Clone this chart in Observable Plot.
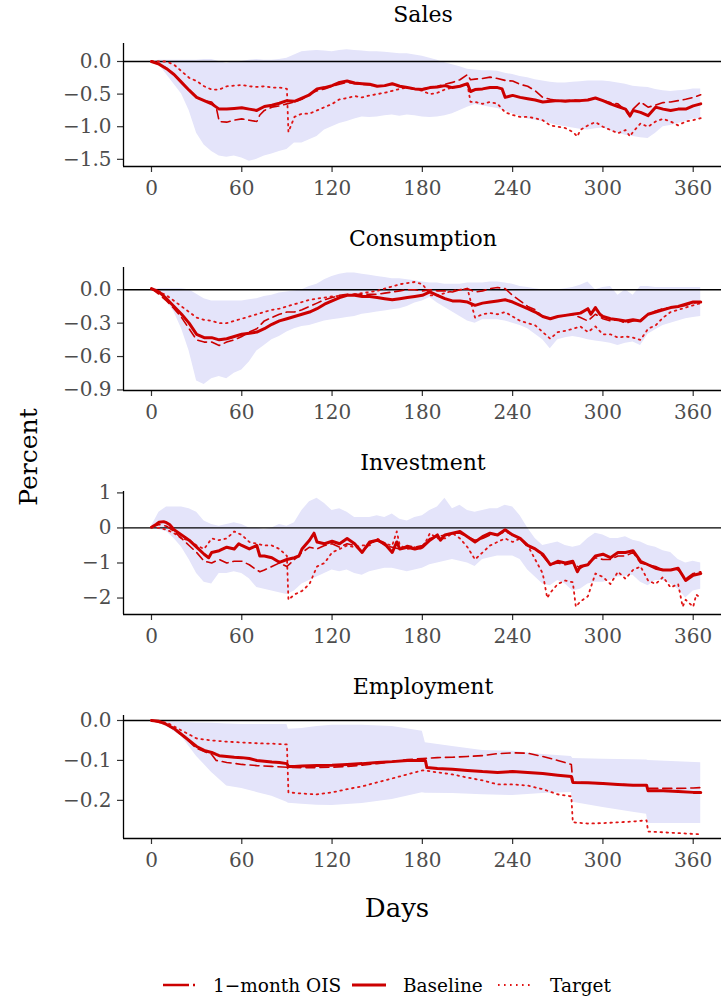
<!DOCTYPE html>
<html>
<head>
<meta charset="utf-8">
<script src="https://cdn.jsdelivr.net/npm/d3@7"></script>
<script src="https://cdn.jsdelivr.net/npm/@observablehq/plot@0.6"></script>
<style>
  body { margin: 0; background: #fff; }
  #fig { position: relative; width: 721px; height: 1000px; overflow: hidden; background: #fff; }
  #fig svg { position: absolute; left: 0; }
</style>
</head>
<body>
<div id="fig"></div>
<script>
// ---------------- tick labels / categories ----------------
const xTicks = [0, 60, 120, 180, 240, 300, 360];
const panelTitles = ["Sales", "Consumption", "Investment", "Employment"];
const seriesNames = ["1\u2212month OIS", "Baseline", "Target"];
const salesYTicks = [0, -0.5, -1.0, -1.5];
const consYTicks = [0, -0.3, -0.6, -0.9];
const invYTicks = [1, 0, -1, -2];
const empYTicks = [0, -0.1, -0.2];

// ---------------- Sales ----------------
const salesBaseline = [[0,0],[5,-0.04],[10,-0.11],[15,-0.2],[20,-0.32],[25,-0.44],[30,-0.55],[35,-0.6],[40,-0.65],[45,-0.73],[50,-0.73],[55,-0.72],[60,-0.71],[65,-0.73],[70,-0.75],[75,-0.69],[80,-0.67],[85,-0.64],[90,-0.6],[95,-0.61],[100,-0.56],[105,-0.51],[110,-0.42],[115,-0.4],[120,-0.37],[125,-0.32],[130,-0.3],[135,-0.33],[140,-0.34],[145,-0.35],[150,-0.38],[155,-0.37],[160,-0.34],[165,-0.38],[170,-0.4],[175,-0.42],[180,-0.43],[185,-0.4],[190,-0.39],[195,-0.37],[200,-0.4],[205,-0.38],[210,-0.34],[212,-0.46],[215,-0.43],[220,-0.42],[225,-0.4],[230,-0.4],[233,-0.42],[235,-0.55],[240,-0.52],[245,-0.55],[250,-0.57],[255,-0.59],[260,-0.62],[265,-0.61],[270,-0.6],[275,-0.61],[280,-0.6],[285,-0.6],[290,-0.59],[295,-0.56],[300,-0.6],[305,-0.65],[310,-0.69],[315,-0.73],[318,-0.83],[320,-0.75],[325,-0.78],[330,-0.83],[335,-0.7],[340,-0.73],[345,-0.75],[350,-0.73],[355,-0.73],[360,-0.68],[365,-0.65]];
const salesOIS = [[0,0],[5,-0.04],[10,-0.1],[15,-0.2],[20,-0.32],[25,-0.44],[30,-0.55],[35,-0.6],[40,-0.62],[43,-0.7],[45,-0.92],[50,-0.93],[55,-0.9],[60,-0.88],[65,-0.9],[70,-0.92],[72,-0.82],[75,-0.75],[80,-0.7],[85,-0.68],[90,-0.65],[95,-0.62],[100,-0.58],[105,-0.5],[110,-0.45],[115,-0.42],[120,-0.38],[125,-0.35],[130,-0.32],[135,-0.34],[140,-0.35],[145,-0.36],[150,-0.38],[155,-0.37],[160,-0.35],[165,-0.38],[170,-0.4],[175,-0.43],[180,-0.42],[185,-0.4],[190,-0.38],[195,-0.35],[200,-0.32],[205,-0.28],[210,-0.2],[212,-0.28],[215,-0.27],[220,-0.26],[225,-0.24],[230,-0.26],[235,-0.29],[240,-0.3],[245,-0.35],[250,-0.38],[255,-0.45],[260,-0.55],[265,-0.58],[270,-0.6],[275,-0.6],[280,-0.59],[285,-0.6],[290,-0.58],[295,-0.56],[300,-0.6],[305,-0.63],[310,-0.65],[315,-0.75],[318,-0.85],[320,-0.73],[325,-0.62],[330,-0.7],[335,-0.67],[340,-0.63],[345,-0.62],[350,-0.6],[355,-0.58],[360,-0.55],[365,-0.51]];
const salesTarget = [[0,0],[5,0],[10,0],[15,-0.05],[20,-0.15],[25,-0.25],[30,-0.3],[35,-0.38],[40,-0.43],[45,-0.43],[50,-0.38],[55,-0.37],[60,-0.36],[65,-0.38],[70,-0.39],[75,-0.38],[80,-0.4],[85,-0.4],[90,-0.42],[91,-1.08],[95,-0.85],[100,-0.8],[105,-0.8],[110,-0.75],[115,-0.7],[120,-0.65],[125,-0.58],[130,-0.56],[135,-0.53],[140,-0.55],[145,-0.52],[150,-0.5],[155,-0.48],[160,-0.45],[165,-0.42],[170,-0.4],[175,-0.42],[180,-0.45],[185,-0.5],[190,-0.48],[195,-0.43],[200,-0.4],[205,-0.38],[210,-0.36],[212,-0.62],[215,-0.62],[220,-0.65],[225,-0.62],[230,-0.65],[235,-0.78],[240,-0.82],[245,-0.85],[250,-0.85],[255,-0.87],[260,-0.9],[265,-0.98],[270,-1.0],[275,-1.02],[280,-1.08],[283,-1.15],[285,-1.05],[290,-0.98],[295,-0.93],[300,-1.0],[305,-1.05],[310,-1.1],[315,-1.05],[318,-1.15],[320,-1.08],[325,-0.95],[330,-1.0],[335,-0.92],[340,-0.88],[345,-0.92],[350,-0.98],[355,-0.92],[360,-0.9],[365,-0.87]];
const salesBand = [[0,0,0],[5,-0.05,0.02],[10,-0.2,0.02],[15,-0.35,0.02],[20,-0.5,0.02],[25,-0.75,0.02],[30,-1.1,0.02],[35,-1.28,0.03],[40,-1.38,0.03],[45,-1.45,0.0],[50,-1.47,-0.03],[55,-1.45,0.0],[60,-1.48,0.0],[65,-1.53,0.02],[70,-1.5,0.03],[75,-1.45,0.02],[80,-1.42,0.02],[85,-1.38,0.03],[90,-1.35,0.05],[95,-1.25,0.1],[100,-1.25,0.15],[105,-1.2,0.16],[110,-1.15,0.17],[115,-1.05,0.16],[120,-1.0,0.15],[125,-0.95,0.17],[130,-0.92,0.18],[135,-0.88,0.17],[140,-0.85,0.16],[145,-0.86,0.15],[150,-0.85,0.15],[155,-0.83,0.14],[160,-0.82,0.13],[165,-0.84,0.12],[170,-0.82,0.12],[175,-0.83,0.1],[180,-0.85,0.08],[185,-0.86,0.05],[190,-0.85,0.02],[195,-0.83,-0.02],[200,-0.8,-0.05],[205,-0.75,-0.08],[210,-0.7,-0.12],[215,-0.66,-0.13],[220,-0.68,-0.14],[225,-0.7,-0.14],[230,-0.72,-0.15],[235,-0.76,-0.18],[240,-0.8,-0.2],[245,-0.84,-0.23],[250,-0.88,-0.25],[255,-0.9,-0.28],[260,-0.92,-0.3],[265,-0.95,-0.32],[270,-0.98,-0.33],[275,-1.0,-0.33],[280,-1.02,-0.32],[285,-1.04,-0.31],[290,-1.05,-0.3],[295,-1.03,-0.3],[300,-1.02,-0.3],[305,-1.06,-0.31],[310,-1.1,-0.33],[315,-1.13,-0.35],[320,-1.15,-0.38],[325,-1.17,-0.39],[330,-1.18,-0.4],[335,-1.1,-0.43],[340,-1.0,-0.45],[345,-0.98,-0.46],[350,-0.95,-0.45],[355,-0.92,-0.44],[360,-0.88,-0.42],[365,-0.88,-0.42]];

// ---------------- Consumption ----------------
const consBaseline = [[0,0.01],[5,-0.02],[10,-0.08],[15,-0.15],[20,-0.22],[25,-0.3],[30,-0.4],[35,-0.43],[40,-0.43],[45,-0.45],[50,-0.44],[55,-0.42],[60,-0.4],[65,-0.39],[70,-0.38],[75,-0.35],[80,-0.31],[85,-0.28],[90,-0.26],[95,-0.24],[100,-0.22],[105,-0.2],[110,-0.17],[115,-0.13],[120,-0.1],[125,-0.07],[130,-0.05],[135,-0.05],[140,-0.06],[145,-0.06],[150,-0.07],[155,-0.08],[160,-0.09],[165,-0.08],[170,-0.07],[175,-0.06],[180,-0.05],[185,-0.02],[190,-0.05],[195,-0.08],[200,-0.1],[205,-0.1],[210,-0.11],[215,-0.14],[220,-0.12],[225,-0.11],[230,-0.1],[235,-0.09],[240,-0.11],[245,-0.14],[250,-0.17],[255,-0.2],[260,-0.24],[265,-0.26],[270,-0.24],[275,-0.23],[280,-0.22],[285,-0.21],[290,-0.17],[292,-0.22],[295,-0.16],[298,-0.22],[300,-0.24],[305,-0.26],[310,-0.27],[315,-0.28],[320,-0.27],[325,-0.28],[330,-0.22],[335,-0.2],[340,-0.18],[345,-0.16],[350,-0.15],[355,-0.13],[360,-0.11],[365,-0.11]];
const consOIS = [[0,0.01],[5,-0.04],[10,-0.1],[15,-0.17],[20,-0.25],[25,-0.35],[30,-0.45],[35,-0.47],[40,-0.47],[45,-0.5],[50,-0.47],[55,-0.45],[60,-0.42],[65,-0.38],[70,-0.35],[75,-0.28],[80,-0.25],[85,-0.22],[90,-0.2],[95,-0.2],[100,-0.18],[105,-0.15],[110,-0.12],[115,-0.09],[120,-0.07],[125,-0.05],[130,-0.04],[135,-0.04],[140,-0.04],[145,-0.04],[150,-0.04],[155,-0.03],[160,-0.02],[165,-0.01],[170,0.0],[175,0.0],[180,-0.01],[185,0.0],[190,-0.01],[195,-0.01],[200,-0.02],[205,0.0],[210,0.01],[215,-0.02],[220,-0.01],[225,0.01],[230,0.02],[235,0.01],[240,-0.05],[245,-0.1],[250,-0.15],[255,-0.18],[260,-0.24],[265,-0.26],[270,-0.24],[275,-0.23],[280,-0.22],[285,-0.25],[290,-0.28],[295,-0.22],[300,-0.26],[305,-0.28],[310,-0.27],[315,-0.3],[320,-0.28],[325,-0.27],[330,-0.22],[335,-0.19],[340,-0.17],[345,-0.16],[350,-0.15],[355,-0.14],[360,-0.12],[365,-0.11]];
const consTarget = [[0,0.01],[5,-0.02],[10,-0.05],[15,-0.1],[20,-0.15],[25,-0.2],[30,-0.25],[35,-0.27],[40,-0.28],[45,-0.3],[50,-0.3],[55,-0.28],[60,-0.26],[65,-0.24],[70,-0.22],[75,-0.2],[80,-0.18],[85,-0.17],[90,-0.15],[95,-0.13],[100,-0.11],[105,-0.09],[110,-0.08],[120,-0.06],[130,-0.05],[140,-0.03],[150,-0.01],[160,0.03],[165,0.05],[170,0.06],[175,0.07],[180,0.05],[183,0.0],[185,-0.05],[190,-0.05],[195,-0.03],[200,-0.01],[205,0.0],[210,0.01],[213,-0.15],[215,-0.25],[220,-0.22],[225,-0.21],[230,-0.22],[235,-0.2],[240,-0.24],[245,-0.28],[250,-0.3],[255,-0.32],[260,-0.38],[265,-0.44],[270,-0.38],[275,-0.37],[280,-0.35],[285,-0.33],[290,-0.38],[295,-0.33],[300,-0.4],[305,-0.4],[310,-0.43],[315,-0.42],[320,-0.43],[325,-0.45],[330,-0.35],[335,-0.32],[340,-0.25],[345,-0.2],[350,-0.18],[355,-0.16],[360,-0.14],[365,-0.12]];
const consBand = [[0,0.01,0.01],[5,-0.02,0.01],[10,-0.1,0.01],[15,-0.2,0.01],[20,-0.35,0.01],[25,-0.55,0.0],[30,-0.82,-0.04],[35,-0.85,-0.08],[40,-0.8,-0.1],[45,-0.78,-0.1],[50,-0.8,-0.1],[55,-0.75,-0.1],[60,-0.72,-0.1],[65,-0.65,-0.09],[70,-0.55,-0.08],[75,-0.5,-0.06],[80,-0.45,-0.05],[85,-0.42,-0.03],[90,-0.38,-0.02],[95,-0.35,-0.01],[100,-0.33,0.0],[105,-0.32,0.03],[110,-0.3,0.05],[115,-0.28,0.09],[120,-0.27,0.12],[125,-0.26,0.14],[130,-0.25,0.15],[135,-0.24,0.15],[140,-0.22,0.14],[145,-0.21,0.13],[150,-0.2,0.12],[155,-0.19,0.11],[160,-0.18,0.1],[165,-0.17,0.1],[170,-0.15,0.09],[175,-0.12,0.08],[180,-0.1,0.07],[185,-0.07,0.06],[190,-0.12,0.06],[195,-0.16,0.05],[200,-0.2,0.05],[205,-0.24,0.05],[210,-0.28,0.06],[215,-0.3,0.06],[220,-0.27,0.06],[225,-0.27,0.07],[230,-0.27,0.07],[235,-0.28,0.06],[240,-0.3,0.05],[245,-0.32,0.03],[250,-0.35,0.02],[255,-0.4,0.01],[260,-0.45,0.0],[265,-0.53,0.0],[270,-0.45,0.0],[275,-0.43,0.01],[280,-0.42,0.02],[285,-0.43,0.04],[290,-0.45,0.07],[295,-0.46,0.0],[300,-0.47,0.02],[305,-0.48,0.03],[310,-0.5,-0.05],[315,-0.48,0.0],[320,-0.47,-0.05],[325,-0.5,0.03],[330,-0.4,0.03],[335,-0.36,0.02],[340,-0.32,0.02],[345,-0.3,0.02],[350,-0.28,0.02],[355,-0.26,0.02],[360,-0.25,0.02],[365,-0.24,0.02]];

// ---------------- Investment ----------------
const invBaseline = [[0,0.02],[3,0.1],[5,0.16],[8,0.18],[10,0.15],[12,0.1],[15,-0.05],[20,-0.2],[25,-0.35],[30,-0.55],[35,-0.75],[38,-0.85],[40,-0.7],[45,-0.65],[50,-0.55],[55,-0.6],[58,-0.45],[60,-0.5],[65,-0.6],[70,-0.5],[72,-0.8],[75,-0.8],[80,-0.85],[85,-0.98],[90,-0.9],[95,-0.85],[98,-0.8],[100,-0.6],[105,-0.35],[108,-0.15],[110,-0.4],[115,-0.45],[120,-0.38],[125,-0.45],[130,-0.3],[135,-0.45],[140,-0.7],[145,-0.4],[150,-0.35],[155,-0.45],[160,-0.7],[163,-0.4],[165,-0.6],[170,-0.55],[175,-0.6],[180,-0.55],[185,-0.35],[190,-0.2],[192,-0.35],[195,-0.2],[200,-0.15],[205,-0.1],[210,-0.25],[215,-0.4],[220,-0.25],[225,-0.15],[230,-0.2],[235,-0.05],[240,-0.2],[245,-0.3],[250,-0.5],[255,-0.6],[260,-0.75],[265,-1.05],[270,-0.95],[275,-1.0],[280,-0.95],[283,-1.25],[285,-1.1],[290,-1.05],[295,-0.8],[300,-0.75],[305,-0.85],[310,-0.7],[315,-0.7],[320,-0.65],[325,-0.95],[330,-1.05],[335,-1.15],[340,-1.2],[345,-1.2],[350,-1.15],[355,-1.5],[360,-1.35],[365,-1.3]];
const invOIS = [[0,0.02],[5,0.1],[10,0.05],[15,-0.1],[20,-0.3],[25,-0.5],[30,-0.7],[35,-0.95],[40,-1.0],[45,-0.9],[50,-1.0],[55,-0.95],[60,-0.95],[65,-1.05],[70,-1.2],[72,-1.25],[75,-1.2],[80,-1.1],[85,-1.0],[90,-1.1],[95,-0.9],[100,-0.7],[105,-0.55],[110,-0.6],[115,-0.5],[120,-0.45],[125,-0.55],[130,-0.45],[135,-0.5],[140,-0.7],[145,-0.45],[150,-0.35],[155,-0.5],[160,-0.55],[165,-0.6],[170,-0.5],[175,-0.55],[180,-0.5],[185,-0.3],[190,-0.25],[195,-0.2],[200,-0.15],[205,-0.15],[210,-0.25],[215,-0.35],[220,-0.3],[225,-0.2],[230,-0.2],[235,-0.1],[240,-0.2],[245,-0.3],[250,-0.55],[255,-0.6],[260,-0.8],[265,-1.05],[270,-1.0],[275,-1.05],[280,-1.0],[285,-1.15],[290,-1.0],[295,-0.85],[300,-0.9],[305,-0.9],[310,-0.8],[315,-0.8],[320,-0.7],[325,-1.0],[330,-1.05],[335,-1.1],[340,-1.2],[345,-1.2],[350,-1.2],[355,-1.45],[360,-1.3],[365,-1.25]];
const invTarget = [[0,0.02],[5,0.0],[10,-0.05],[15,-0.15],[20,-0.3],[25,-0.35],[30,-0.5],[35,-0.6],[40,-0.3],[45,-0.35],[50,-0.3],[55,-0.1],[60,-0.2],[65,-0.4],[70,-0.45],[75,-0.5],[80,-0.5],[85,-0.6],[90,-0.8],[91,-2.05],[95,-1.9],[100,-1.8],[105,-1.6],[110,-1.1],[115,-1.0],[120,-0.7],[125,-0.6],[130,-0.5],[135,-0.55],[140,-0.5],[145,-0.5],[150,-0.3],[155,-0.45],[160,-0.5],[163,-0.1],[165,-0.5],[170,-0.6],[175,-0.55],[180,-0.6],[185,-0.15],[190,-0.3],[195,-0.3],[200,-0.15],[205,-0.3],[210,-0.55],[215,-0.9],[220,-0.7],[225,-0.5],[230,-0.4],[235,-0.3],[240,-0.4],[245,-0.3],[250,-0.5],[255,-0.9],[260,-1.3],[263,-2.0],[265,-1.85],[270,-1.6],[275,-1.5],[280,-1.55],[282,-2.25],[285,-2.1],[290,-1.95],[295,-1.3],[300,-1.4],[305,-1.6],[310,-1.25],[315,-1.45],[320,-1.2],[325,-1.1],[330,-1.5],[335,-1.6],[340,-1.4],[345,-1.7],[350,-1.6],[353,-2.25],[355,-2.05],[360,-2.25],[362,-1.9],[365,-2.0]];
const invBand = [[0,0.0,0.05],[5,-0.05,0.45],[10,-0.1,0.6],[15,-0.3,0.6],[20,-0.55,0.6],[25,-0.9,0.55],[30,-1.3,0.45],[35,-1.55,0.2],[40,-1.6,0.1],[45,-1.3,0.05],[50,-1.3,0.1],[55,-1.25,0.15],[60,-1.3,0.1],[65,-1.45,0.0],[70,-1.7,0.0],[75,-1.75,-0.05],[80,-1.8,0.0],[85,-1.85,0.1],[90,-1.9,0.05],[95,-1.8,0.15],[100,-1.6,0.5],[105,-1.5,0.75],[110,-1.4,0.85],[115,-1.3,0.7],[120,-1.2,0.5],[125,-1.25,0.55],[130,-1.2,0.45],[135,-1.3,0.3],[140,-1.35,0.3],[145,-1.25,0.3],[150,-1.2,0.35],[155,-1.15,0.3],[160,-1.15,0.4],[165,-1.2,0.25],[170,-1.25,0.2],[175,-1.2,0.3],[180,-1.15,0.35],[185,-1.05,0.5],[190,-1.0,0.6],[195,-0.95,0.85],[200,-0.9,0.55],[205,-0.95,0.65],[210,-1.0,0.5],[215,-1.1,0.45],[220,-0.9,0.5],[225,-0.85,0.55],[230,-0.8,0.55],[235,-0.8,0.65],[240,-0.8,0.6],[245,-0.9,0.35],[250,-1.2,0.0],[255,-1.4,-0.3],[260,-1.6,-0.5],[265,-1.65,-0.45],[270,-1.5,-0.4],[275,-1.6,-0.5],[280,-1.8,-0.55],[285,-1.75,-0.5],[290,-1.6,-0.3],[295,-1.55,-0.15],[300,-1.55,-0.2],[305,-1.5,-0.3],[310,-1.4,-0.3],[315,-1.38,-0.25],[320,-1.35,-0.35],[325,-1.55,-0.4],[330,-1.65,-0.5],[335,-1.5,-0.55],[340,-1.5,-0.65],[345,-1.6,-0.7],[350,-1.75,-0.9],[355,-2.0,-1.0],[360,-1.8,-0.95],[365,-1.75,-1.0]];

// ---------------- Employment ----------------
const empBaseline = [[0,0],[5,-0.002],[10,-0.01],[15,-0.02],[20,-0.035],[25,-0.05],[30,-0.065],[35,-0.075],[40,-0.08],[43,-0.085],[45,-0.088],[50,-0.09],[55,-0.092],[60,-0.093],[65,-0.095],[70,-0.1],[75,-0.102],[80,-0.104],[85,-0.105],[90,-0.108],[91,-0.115],[95,-0.115],[100,-0.114],[110,-0.113],[120,-0.112],[130,-0.11],[140,-0.108],[150,-0.105],[160,-0.103],[170,-0.1],[182,-0.1],[183,-0.118],[190,-0.12],[200,-0.122],[210,-0.125],[220,-0.128],[230,-0.13],[240,-0.128],[250,-0.13],[260,-0.133],[270,-0.137],[279,-0.14],[280,-0.155],[290,-0.156],[300,-0.158],[310,-0.16],[320,-0.162],[329,-0.162],[330,-0.176],[340,-0.176],[350,-0.178],[360,-0.18],[365,-0.18]];
const empOIS = [[0,0],[10,-0.01],[20,-0.035],[30,-0.07],[40,-0.085],[43,-0.1],[50,-0.105],[60,-0.11],[70,-0.113],[80,-0.115],[90,-0.117],[100,-0.118],[110,-0.118],[120,-0.117],[130,-0.115],[140,-0.112],[150,-0.108],[160,-0.103],[170,-0.098],[180,-0.095],[190,-0.093],[200,-0.092],[210,-0.09],[220,-0.088],[230,-0.083],[240,-0.081],[250,-0.082],[260,-0.09],[270,-0.1],[279,-0.11],[280,-0.155],[290,-0.156],[300,-0.158],[310,-0.16],[320,-0.162],[329,-0.161],[330,-0.17],[340,-0.17],[350,-0.17],[360,-0.169],[365,-0.168]];
const empTarget = [[0,0],[10,-0.005],[20,-0.025],[30,-0.045],[40,-0.05],[50,-0.053],[60,-0.055],[70,-0.057],[80,-0.058],[90,-0.06],[91,-0.18],[100,-0.183],[110,-0.185],[120,-0.18],[130,-0.172],[140,-0.165],[150,-0.155],[160,-0.145],[170,-0.135],[180,-0.125],[182,-0.125],[190,-0.13],[200,-0.135],[210,-0.143],[220,-0.15],[230,-0.16],[240,-0.16],[250,-0.163],[260,-0.172],[270,-0.185],[279,-0.19],[280,-0.255],[290,-0.258],[300,-0.257],[310,-0.255],[320,-0.253],[329,-0.25],[330,-0.278],[340,-0.28],[350,-0.282],[360,-0.284],[365,-0.285]];
const empBand = [[0,0,0],[5,-0.005,-0.002],[10,-0.015,-0.004],[20,-0.04,-0.005],[30,-0.09,-0.006],[40,-0.13,-0.007],[50,-0.164,-0.009],[60,-0.17,-0.01],[70,-0.18,-0.01],[80,-0.19,-0.01],[90,-0.205,-0.01],[91,-0.207,-0.022],[100,-0.21,-0.02],[110,-0.212,-0.015],[120,-0.213,-0.012],[140,-0.208,-0.012],[160,-0.198,-0.015],[180,-0.181,-0.027],[182,-0.182,-0.056],[200,-0.183,-0.065],[220,-0.186,-0.075],[240,-0.188,-0.077],[260,-0.183,-0.085],[279,-0.18,-0.09],[280,-0.205,-0.095],[300,-0.218,-0.097],[320,-0.23,-0.098],[329,-0.235,-0.099],[330,-0.258,-0.1],[365,-0.258,-0.106]];

// ---------------- layout ----------------
const W = 721;
const ML = 123, MT = 5, MB = 40, PH = 123;
const xDomain = [-18.6, 378.8];
const RED = "#cc0000", DOT = "#e01414", BAND = "#e4e4fa";
const FONT = '"DejaVu Serif", serif';
const DOTS = "1.6,4.4";

const panels = [
  {title: panelTitles[0], top: 43, yDomain: [-1.61, 0.276], yTicks: salesYTicks, fmt: d3.format(".1f"), band: salesBand, base: salesBaseline, ois: salesOIS, target: salesTarget},
  {title: panelTitles[1], top: 267, yDomain: [-0.905, 0.2], yTicks: consYTicks, fmt: d3.format(".1f"), band: consBand, base: consBaseline, ois: consOIS, target: consTarget},
  {title: panelTitles[2], top: 491, yDomain: [-2.47, 1.04], yTicks: invYTicks, fmt: d3.format("d"), band: invBand, base: invBaseline, ois: invOIS, target: invTarget},
  {title: panelTitles[3], top: 715, yDomain: [-0.2955, 0.0125], yTicks: empYTicks, fmt: d3.format(".1f"), band: empBand, base: empBaseline, ois: empOIS, target: empTarget}
];

const fig = document.getElementById("fig");
const X = d => d[0], Y = d => d[1];

for (const p of panels) {
  const svg = Plot.plot({
    width: W,
    height: MT + PH + MB,
    marginLeft: ML, marginRight: 0, marginTop: MT, marginBottom: MB,
    x: {domain: xDomain},
    y: {domain: p.yDomain},
    style: {fontFamily: FONT, fontSize: "20px", background: "transparent", overflow: "visible"},
    marks: [
      Plot.areaY(p.band, {x: X, y1: d => d[1], y2: d => d[2], fill: BAND}),
      Plot.ruleY([0], {stroke: "#000", strokeWidth: 1.3}),
      Plot.line(p.target, {x: X, y: Y, stroke: DOT, strokeWidth: 1.8, strokeDasharray: DOTS}),
      Plot.line(p.ois, {x: X, y: Y, stroke: RED, strokeWidth: 1.6, strokeDasharray: "9,5"}),
      Plot.line(p.base, {x: X, y: Y, stroke: RED, strokeWidth: 3}),
      Plot.axisY({ticks: p.yTicks, tickFormat: p.fmt, tickSize: 6, tickPadding: 6, stroke: "#333", strokeWidth: 1.2, fill: "#4d4d4d", fontSize: 20, label: null}),
      Plot.axisX({ticks: xTicks, tickFormat: d3.format("d"), tickSize: 6, tickPadding: 8, stroke: "#333", strokeWidth: 1.2, fill: "#4d4d4d", fontSize: 20, label: null}),
      Plot.ruleX([xDomain[0]], {stroke: "#000", strokeWidth: 1.3}),
      Plot.ruleY([p.yDomain[0]], {stroke: "#000", strokeWidth: 1.3})
    ]
  });
  svg.style.top = (p.top - MT) + "px";
  fig.appendChild(svg);
}

// ---------------- titles, axis labels, legend ----------------
const overlay = d3.select(fig).append("svg")
  .attr("width", W).attr("height", 1000)
  .style("top", "0px")
  .style("font-family", FONT);

overlay.selectAll("text.ptitle").data(panels).join("text")
  .attr("class", "ptitle")
  .attr("x", (ML + W) / 2 + 1)
  .attr("y", p => p.top - 21)
  .attr("text-anchor", "middle")
  .attr("font-size", 22)
  .attr("fill", "#000")
  .text(p => p.title);

overlay.append("text")
  .attr("transform", "translate(37,457) rotate(-90)")
  .attr("text-anchor", "middle")
  .attr("font-size", 25)
  .attr("fill", "#000")
  .text("Percent");

overlay.append("text")
  .attr("x", 397).attr("y", 917)
  .attr("text-anchor", "middle")
  .attr("font-size", 26)
  .attr("fill", "#000")
  .text("Days");

const legendItems = [
  {name: seriesNames[0], x1: 163, x2: 195, tx: 213, stroke: RED, width: 2.6, dash: "26,4,2.5,30"},
  {name: seriesNames[1], x1: 352, x2: 386, tx: 403, stroke: RED, width: 3, dash: null},
  {name: seriesNames[2], x1: 498, x2: 532, tx: 550, stroke: DOT, width: 1.8, dash: DOTS}
];
const lg = overlay.append("g");
lg.selectAll("line").data(legendItems).join("line")
  .attr("x1", d => d.x1).attr("x2", d => d.x2)
  .attr("y1", 985).attr("y2", 985)
  .attr("stroke", d => d.stroke)
  .attr("stroke-width", d => d.width)
  .attr("stroke-dasharray", d => d.dash);
lg.selectAll("text").data(legendItems).join("text")
  .attr("x", d => d.tx).attr("y", 992)
  .attr("font-size", 18.5)
  .attr("fill", "#000")
  .text(d => d.name);
</script>
</body>
</html>
